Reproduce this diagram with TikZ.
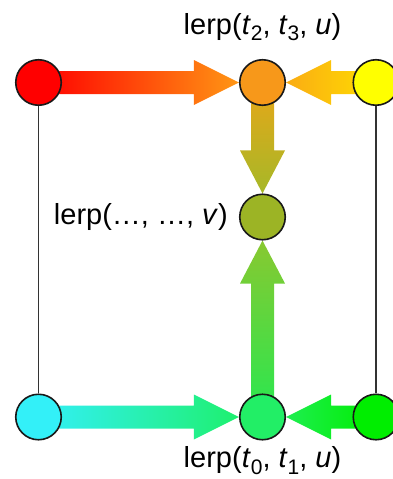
\documentclass[tikz,border=0pt]{standalone}
\usepackage{fontspec}
\setmainfont{Liberation Sans}
\usetikzlibrary{calc,positioning}
\pgfdeclarelayer{bg}
\pgfsetlayers{bg,main}
\definecolor{ptred}{HTML}{FF0000}
\definecolor{ptorange}{HTML}{F7981A}
\definecolor{ptyellow}{HTML}{FFFF00}
\definecolor{ptolive}{HTML}{9CB425}
\definecolor{ptcyan}{HTML}{33F0F8}
\definecolor{ptgreen}{HTML}{22EE66}
\definecolor{ptlime}{HTML}{00EE00}
\newcommand{\lsub}[1]{\raisebox{-0.22em}{\fontsize{21}{24}\selectfont #1}}

\begin{document}
\begin{tikzpicture}[
    x=1pt, y=-1pt,
    dot/.style={circle, draw=black!90, line width=1.6pt, fill=#1,
                minimum size=45.5pt, inner sep=0pt},
    edge/.style={draw=black!80, line width=1.6pt},
    lbl/.style={font=\fontsize{29}{33}\selectfont, inner sep=0pt}
]
    \useasboundingbox (0,0) rectangle (393,479);

    % Control points and results
    \node[dot=ptred] (p2) at (38.5,82.5) {};
    \node[dot=ptorange] (a) at (262.5,82.5) {};
    \node[dot=ptyellow] (p3) at (376,82.5) {};
    \node[dot=ptolive] (m) at (262.5,217) {};
    \node[dot=ptcyan] (p0) at (38.5,417) {};
    \node[dot=ptgreen] (b) at (262.5,417) {};
    \node[dot=ptlime] (p1) at (376,417) {};

    % Frame sides
    \draw[edge] (p2) -- (p0);
    \draw[edge] (p3) -- (p1);

    % Fat arrows
    \begin{pgfonlayer}{bg}
    \shade[left color=ptred, right color={rgb,255:red,255;green,150;blue,20}]
        ($(p2.center)+(0,-11.5)$) -- ($(a.west)+(-45,-11.5)$) -- ($(a.west)+(-45,-22.5)$)
        -- (a.west) -- ($(a.west)+(-45,22.5)$) -- ($(a.west)+(-45,11.5)$)
        -- ($(p2.center)+(0,11.5)$) -- cycle;
    \shade[right color={rgb,255:red,255;green,220;blue,0}, left color={rgb,255:red,250;green,172;blue,20}]
        ($(p3.center)+(0,-11.5)$) -- ($(a.east)+(45,-11.5)$) -- ($(a.east)+(45,-22.5)$)
        -- (a.east) -- ($(a.east)+(45,22.5)$) -- ($(a.east)+(45,11.5)$)
        -- ($(p3.center)+(0,11.5)$) -- cycle;
    \shade[left color=ptcyan, right color={rgb,255:red,30;green,240;blue,110}]
        ($(p0.center)+(0,-11.5)$) -- ($(b.west)+(-45,-11.5)$) -- ($(b.west)+(-45,-22.5)$)
        -- (b.west) -- ($(b.west)+(-45,22.5)$) -- ($(b.west)+(-45,11.5)$)
        -- ($(p0.center)+(0,11.5)$) -- cycle;
    \shade[right color=ptlime, left color={rgb,255:red,30;green,238;blue,80}]
        ($(p1.center)+(0,-11.5)$) -- ($(b.east)+(45,-11.5)$) -- ($(b.east)+(45,-22.5)$)
        -- (b.east) -- ($(b.east)+(45,22.5)$) -- ($(b.east)+(45,11.5)$)
        -- ($(p1.center)+(0,11.5)$) -- cycle;
    \shade[top color={rgb,255:red,232;green,166;blue,24}, bottom color={rgb,255:red,166;green,184;blue,40}]
        ($(a.center)+(-11.5,0)$) -- ($(m.north)+(-11.5,-43)$) -- ($(m.north)+(-22.5,-43)$)
        -- (m.north) -- ($(m.north)+(22.5,-43)$) -- ($(m.north)+(11.5,-43)$)
        -- ($(a.center)+(11.5,0)$) -- cycle;
    \shade[bottom color={rgb,255:red,40;green,232;blue,80}, top color={rgb,255:red,136;green,200;blue,48}]
        ($(b.center)+(-11.5,0)$) -- ($(m.south)+(-11.5,43)$) -- ($(m.south)+(-22.5,43)$)
        -- (m.south) -- ($(m.south)+(22.5,43)$) -- ($(m.south)+(11.5,43)$)
        -- ($(b.center)+(11.5,0)$) -- cycle;
    \end{pgfonlayer}

    % Labels
    \node[lbl, above=18pt of a] (la) {lerp(\textit{t}\lsub{2}, \textit{t}\lsub{3}, \textit{u})};
    \node[lbl, left=11pt of m] (lm) {lerp(\dots, \dots, \textit{v})};
    \node[lbl, below=6pt of b] (lb) {lerp(\textit{t}\lsub{0}, \textit{t}\lsub{1}, \textit{u})};
\end{tikzpicture}
\end{document}
